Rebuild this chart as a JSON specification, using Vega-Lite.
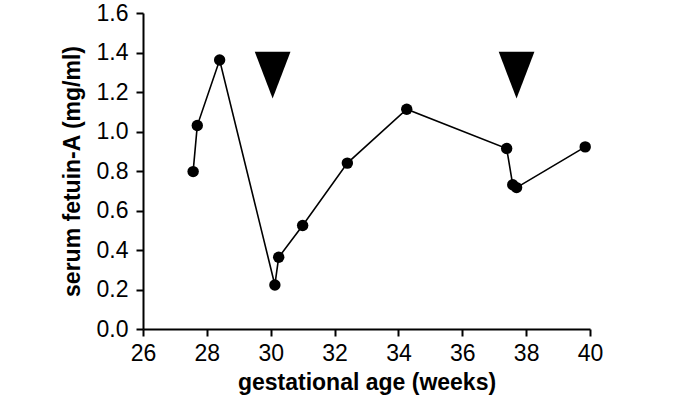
{
  "$schema": "https://vega.github.io/schema/vega-lite/v6.json",
  "width": 447,
  "height": 316,
  "autosize": {"type": "none"},
  "padding": {"left": 143, "top": 13, "right": 85, "bottom": 75},
  "background": "white",
  "config": {
    "view": {"stroke": null},
    "font": "Liberation Sans",
    "axis": {
      "grid": false,
      "domainColor": "black",
      "domainWidth": 2,
      "tickColor": "black",
      "tickWidth": 2,
      "tickSize": 7,
      "labelFont": "Liberation Sans",
      "labelFontSize": 23,
      "labelColor": "black",
      "labelOverlap": false,
      "titleFont": "Liberation Sans",
      "titleFontSize": 23,
      "titleFontWeight": "bold",
      "titleColor": "black"
    }
  },
  "layer": [
    {
      "data": {
        "values": [
          {"week": 27.57, "fetuinA": 0.797},
          {"week": 27.70, "fetuinA": 1.030},
          {"week": 28.40, "fetuinA": 1.362},
          {"week": 30.13, "fetuinA": 0.223},
          {"week": 30.25, "fetuinA": 0.363},
          {"week": 31.00, "fetuinA": 0.524},
          {"week": 32.40, "fetuinA": 0.840},
          {"week": 34.26, "fetuinA": 1.113},
          {"week": 37.39, "fetuinA": 0.914},
          {"week": 37.58, "fetuinA": 0.730},
          {"week": 37.70, "fetuinA": 0.716},
          {"week": 39.85, "fetuinA": 0.922}
        ]
      },
      "encoding": {
        "x": {
          "field": "week",
          "type": "quantitative",
          "scale": {"domain": [26, 40], "nice": false, "zero": false},
          "axis": {
            "title": "gestational age (weeks)",
            "values": [26, 28, 30, 32, 34, 36, 38, 40],
            "tickCount": 10,
            "labelPadding": 6,
            "titlePadding": 6,
            "labelFlush": false
          }
        },
        "y": {
          "field": "fetuinA",
          "type": "quantitative",
          "scale": {"domain": [0, 1.6], "nice": false},
          "axis": {
            "title": "serum fetuin-A (mg/ml)",
            "values": [0, 0.2, 0.4, 0.6, 0.8, 1.0, 1.2, 1.4, 1.6],
            "tickCount": 10,
            "format": ".1f",
            "labelPadding": 8,
            "titlePadding": 12,
            "labelFlush": false
          }
        }
      },
      "layer": [
        {"mark": {"type": "line", "color": "black", "strokeWidth": 1.6}},
        {"mark": {"type": "point", "filled": true, "color": "black", "opacity": 1, "size": 130, "shape": "circle"}}
      ]
    },
    {
      "data": {
        "values": [
          {"week": 30.06, "fetuinA": 1.285},
          {"week": 37.70, "fetuinA": 1.285}
        ]
      },
      "mark": {
        "type": "point",
        "filled": true,
        "color": "black",
        "opacity": 1,
        "shape": "M-0.765,-1L0.765,-1L0,1Z",
        "size": 2181
      },
      "encoding": {
        "x": {"field": "week", "type": "quantitative"},
        "y": {"field": "fetuinA", "type": "quantitative"}
      }
    }
  ]
}
